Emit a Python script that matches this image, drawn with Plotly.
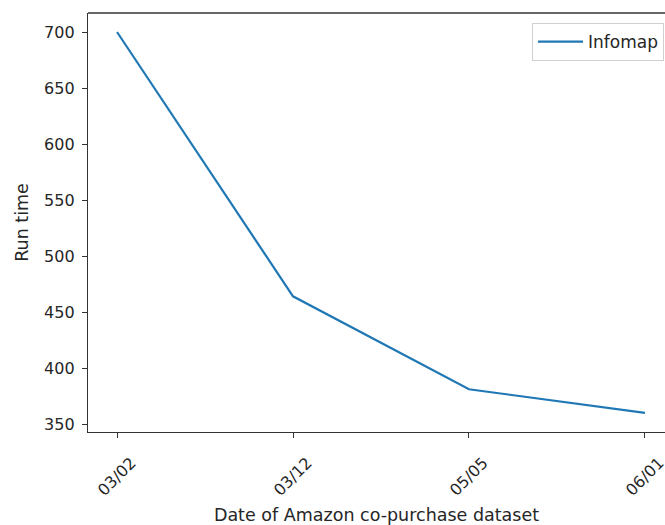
import plotly.graph_objects as go

dates = ["03/02", "03/12", "05/05", "06/01"]
run_time = [700, 464, 381, 360]
series_name = "Infomap"
y_ticks = [350, 400, 450, 500, 550, 600, 650, 700]
x_title = "Date of Amazon co-purchase dataset"
y_title = "Run time"

FONT = "DejaVu Sans"
TXT = "#262626"

x_idx = list(range(len(dates)))

fig = go.Figure()
fig.add_trace(go.Scatter(
    x=x_idx, y=run_time, mode="lines", name=series_name,
    line=dict(color="#1f77b4", width=2.2),
))

annotations = []
for i, d in zip(x_idx, dates):
    annotations.append(dict(
        x=i, y=0, xref="x", yref="paper", text=d, showarrow=False,
        textangle=-45, xanchor="center", yanchor="top", yshift=-19,
        font=dict(family=FONT, size=16, color=TXT),
    ))

fig.update_layout(
    width=665, height=525,
    margin=dict(l=88, r=0, t=13, b=93),
    paper_bgcolor="white", plot_bgcolor="white",
    font=dict(family=FONT, size=16, color=TXT),
    showlegend=True,
    legend=dict(
        x=0.7695, y=0.976, xanchor="left", yanchor="top",
        bgcolor="white", bordercolor="#d0d0d0", borderwidth=1,
        itemwidth=45,
        font=dict(family=FONT, size=17, color=TXT),
    ),
    annotations=annotations,
    shapes=[dict(type="line", xref="paper", yref="paper", x0=0, x1=1, y0=1, y1=1,
                 line=dict(color="#333333", width=1.3))],
)
fig.update_xaxes(
    range=[-0.165, 3.114], tickvals=x_idx, showticklabels=False,
    ticks="outside", ticklen=5, tickcolor="#333333",
    showline=True, linecolor="#333333", linewidth=1.3, showgrid=False, zeroline=False,
    title=dict(text=x_title, font=dict(family=FONT, size=17.5, color=TXT), standoff=72),
)
fig.update_yaxes(
    range=[342.86, 716.96], tickvals=y_ticks,
    ticks="outside", ticklen=5, tickcolor="#333333", ticklabelstandoff=4,
    tickfont=dict(family=FONT, size=16, color=TXT),
    showline=True, linecolor="#333333", linewidth=1.3, showgrid=False, zeroline=False,
    title=dict(text=y_title, font=dict(family=FONT, size=17.5, color=TXT), standoff=10),
)
fig.write_html("out.html")
